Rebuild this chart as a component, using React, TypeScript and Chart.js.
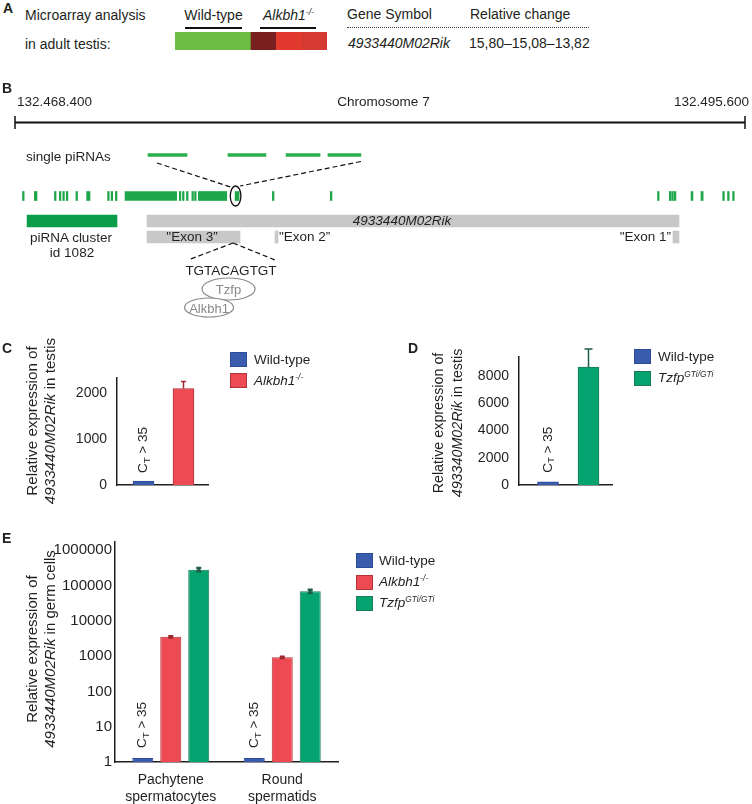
import React, { useEffect, useRef } from 'react';
import { Chart, registerables } from 'chart.js';

Chart.register(...registerables);

const FONT = '"Liberation Sans", Arial, Helvetica, sans-serif';
const INK = '#231f20';
Chart.defaults.font.family = FONT;
Chart.defaults.color = INK;

// ---------- Panel A : microarray ----------
const MICROARRAY_SAMPLES = ['WT 1', 'WT 2', 'WT 3', 'KO 1', 'KO 2', 'KO 3'];
const MICROARRAY_CELL = [1, 1, 1, 1, 1, 1];
const MICROARRAY_COLORS = ['#6dbd45', '#6dbd45', '#6dbd45', '#7a1f20', '#e2392e', '#d43a32'];
const GENE_SYMBOL = '4933440M02Rik';
const RELATIVE_CHANGE = '15,80–15,08–13,82';

// ---------- Panel B : chromosome 7 locus ----------
const CHROM_START = 132468400;
const CHROM_END = 132495600;
const CHROM_TICK_LABELS = ['132.468.400', '132.495.600'];
const PIRNA_TICKS: [number, number][] = [
  [132468680, 132468740], [132469120, 132469220], [132469870, 132469930],
  [132470050, 132470110], [132470180, 132470240], [132470310, 132470370],
  [132470670, 132470730], [132471070, 132471195], [132471850, 132471910],
  [132471980, 132472040], [132472140, 132472200], [132472500, 132474425],
  [132474520, 132474580], [132474640, 132474700], [132474790, 132474850],
  [132474990, 132475050], [132475090, 132475150], [132475230, 132476290],
  [132476600, 132476750], [132477990, 132478050], [132480150, 132480210],
  [132492340, 132492400], [132492780, 132492840], [132492870, 132492930],
  [132492965, 132493025], [132493590, 132493660], [132493960, 132494040],
  [132494770, 132494830], [132494950, 132495010], [132495140, 132495200],
];
const HIGHLIGHTED_PIRNA: [number, number] = [132476600, 132476750];
const SINGLE_PIRNAS: [number, number][] = [
  [132473355, 132474810], [132476335, 132477750], [132478500, 132479765], [132480060, 132481290],
];
const PIRNA_CLUSTER: [number, number] = [132468850, 132472200];
const GENE: [number, number] = [132473320, 132493140];
const EXONS: [number, number][] = [[132473320, 132476785], [132478090, 132478200], [132492915, 132493140]];
const SEQUENCE = 'TGTACAGTGT';

// ---------- Panel C ----------
const C_GROUPS = ['Wild-type', 'Alkbh1-/-'];
const C_VALUES = [85, 2110];
const C_ERRORS = [0, 155];
const C_TICKS = [0, 1000, 2000];
const C_MAX = 2340;

// ---------- Panel D ----------
const D_GROUPS = ['Wild-type', 'TzfpGTi/GTi'];
const D_VALUES = [230, 8640];
const D_ERRORS = [0, 1310];
const D_TICKS = [0, 2000, 4000, 6000, 8000];
const D_MAX = 9370;

// ---------- Panel E ----------
const E_CATEGORIES = [['Pachytene', 'spermatocytes'], ['Round', 'spermatids']];
const E_WT = [1.3, 1.3];
const E_ALKBH1 = [3530, 925];
const E_TZFP = [283000, 69000];
const E_ALKBH1_ERR = [200, 50];
const E_TZFP_ERR = [30000, 7000];
const E_TICKS = [1, 10, 100, 1000, 10000, 100000, 1000000];
const E_MAX = 1720000;

// ---------- styles ----------
const BLUE = '#3a5cad', BLUE_B = '#2c4c98';
const RED = '#ee4a53', RED_B = '#b3333b', RED_ERR = '#9a2a30';
const GREEN = '#04a36f', GREEN_B = '#1d7a53', GREEN_ERR = '#1b5e43';
const AXIS = '#231f20';

// rows of the locus diagram (vertical layout, px from top of panel B canvas)
const ROW = { chrom: 42.5, single: 75, track: 116, gene: 141, exon: 157 };

function errorBars(specs: any[]) {
  return {
    id: 'errorBars',
    afterDatasetsDraw(chart: any) {
      const ctx = chart.ctx;
      const ys = chart.scales.y;
      specs.forEach((s) => {
        const meta = chart.getDatasetMeta(s.dataset);
        const ds = chart.data.datasets[s.dataset].data;
        meta.data.forEach((bar: any, i: number) => {
          const err = s.errors[i];
          if (!err) return;
          const raw = ds[i];
          const v = typeof raw === 'number' ? raw : raw.y;
          const top = ys.getPixelForValue(v + err);
          const bot = s.both ? ys.getPixelForValue(v - err) : ys.getPixelForValue(v);
          ctx.save();
          ctx.strokeStyle = s.color;
          ctx.lineWidth = s.width;
          ctx.beginPath();
          ctx.moveTo(bar.x, bot);
          ctx.lineTo(bar.x, top);
          ctx.moveTo(bar.x - s.cap / 2, top);
          ctx.lineTo(bar.x + s.cap / 2, top);
          if (s.both) {
            ctx.moveTo(bar.x - s.cap / 2, bot);
            ctx.lineTo(bar.x + s.cap / 2, bot);
          }
          ctx.stroke();
          ctx.restore();
        });
      });
    },
  };
}

function ctLabels(items: [number, number][], gap: number) {
  return {
    id: 'ctLabels',
    afterDatasetsDraw(chart: any) {
      const ctx = chart.ctx;
      items.forEach(([d, i]) => {
        const bar: any = chart.getDatasetMeta(d).data[i];
        const size = 13.5;
        ctx.save();
        ctx.translate(bar.x, bar.y - gap);
        ctx.rotate(-Math.PI / 2);
        ctx.fillStyle = INK;
        ctx.textBaseline = 'middle';
        ctx.textAlign = 'left';
        let x = 0;
        ctx.font = `${size}px ${FONT}`;
        ctx.fillText('C', x, 0);
        x += ctx.measureText('C').width;
        ctx.font = `${size * 0.72}px ${FONT}`;
        ctx.fillText('T', x, size * 0.28);
        x += ctx.measureText('T').width;
        ctx.font = `${size}px ${FONT}`;
        ctx.fillText(' > 35', x, 0);
        ctx.restore();
      });
    },
  };
}

const BASE_OPTS = {
  responsive: false,
  animation: false,
  events: [],
  plugins: { legend: { display: false }, tooltip: { enabled: false } },
};

function makeA() {
  return {
    type: 'bar',
    data: {
      labels: MICROARRAY_SAMPLES,
      datasets: [{ data: MICROARRAY_CELL, backgroundColor: MICROARRAY_COLORS, borderWidth: 0, barPercentage: 1, categoryPercentage: 1 }],
    },
    options: {
      ...BASE_OPTS,
      layout: { padding: 0 },
      scales: { x: { display: false }, y: { display: false, min: 0, max: 1 } },
    },
  };
}

const locusPlugin = {
  id: 'locus',
  afterDatasetsDraw(chart: any) {
    const { ctx } = chart;
    const xs = chart.scales.x, ys = chart.scales.y;
    const px = (v: number) => xs.getPixelForValue(v);
    const py = (v: number) => ys.getPixelForValue(v);
    ctx.save();
    ctx.strokeStyle = '#111';
    ctx.lineWidth = 1.5;
    [CHROM_START, CHROM_END].forEach((v) => {
      ctx.beginPath();
      ctx.moveTo(px(v), py(ROW.chrom) - 6.5);
      ctx.lineTo(px(v), py(ROW.chrom) + 6.5);
      ctx.stroke();
    });
    // ellipse around highlighted piRNA
    const ecx = (px(HIGHLIGHTED_PIRNA[0]) + px(HIGHLIGHTED_PIRNA[1])) / 2 - 1.5;
    const ecy = py(ROW.track);
    ctx.lineWidth = 1.3;
    ctx.beginPath();
    ctx.ellipse(ecx, ecy, 5.3, 10, 0, 0, Math.PI * 2);
    ctx.stroke();
    // dashed zoom lines
    ctx.setLineDash([5, 3]);
    ctx.lineWidth = 1.2;
    ctx.beginPath();
    ctx.moveTo(px(SINGLE_PIRNAS[0][0]) + 9, py(ROW.single) + 8);
    ctx.lineTo(ecx - 5, ecy - 9);
    ctx.moveTo(px(SINGLE_PIRNAS[3][1]), py(ROW.single) + 6.5);
    ctx.lineTo(ecx + 4.5, ecy - 10);
    const ax = px(EXONS[0][1]) - 7;
    const ay = py(ROW.exon) + 6;
    ctx.moveTo(ax, ay);
    ctx.lineTo(ax - 45, ay + 17);
    ctx.moveTo(ax, ay);
    ctx.lineTo(ax + 42, ay + 17);
    ctx.stroke();
    ctx.setLineDash([]);
    // protein binding ellipses
    ctx.strokeStyle = '#8a8a8a';
    ctx.fillStyle = '#ffffff';
    ctx.lineWidth = 1.2;
    ctx.beginPath();
    ctx.ellipse(ax - 4.5, ay + 46, 26.5, 11, 0, 0, Math.PI * 2);
    ctx.fill();
    ctx.stroke();
    ctx.beginPath();
    ctx.ellipse(ax - 24, ay + 64.5, 24.5, 9.5, 0, 0, Math.PI * 2);
    ctx.fill();
    ctx.stroke();
    ctx.restore();
  },
};

function makeB() {
  const common = { stack: 'locus', borderWidth: 0 };
  return {
    type: 'bar',
    data: {
      datasets: [
        { ...common, label: 'Chromosome 7', data: [{ x: [CHROM_START, CHROM_END], y: ROW.chrom }], backgroundColor: '#111', barThickness: 1.5 },
        { ...common, label: 'single piRNAs', data: SINGLE_PIRNAS.map((r) => ({ x: r, y: ROW.single })), backgroundColor: '#2bae4b', barThickness: 3 },
        { ...common, label: 'piRNAs', data: PIRNA_TICKS.map((r) => ({ x: r, y: ROW.track })), backgroundColor: '#1ea64a', barThickness: 9 },
        { ...common, label: 'piRNA cluster id 1082', data: [{ x: PIRNA_CLUSTER, y: ROW.gene }], backgroundColor: '#0a9e4b', barThickness: 12 },
        { ...common, label: GENE_SYMBOL, data: [{ x: GENE, y: ROW.gene }], backgroundColor: '#c8c8c8', barThickness: 12 },
        { ...common, label: 'Exons', data: EXONS.map((r) => ({ x: r, y: ROW.exon })), backgroundColor: '#c8c8c8', barThickness: 12 },
      ],
    },
    options: {
      ...BASE_OPTS,
      indexAxis: 'y',
      layout: { padding: { left: 15, right: 7, top: 0, bottom: 0 } },
      scales: {
        x: { type: 'linear', display: false, min: CHROM_START, max: CHROM_END, stacked: false, offset: false },
        y: { type: 'linear', display: false, min: 0, max: 250, reverse: true, offset: false },
      },
    },
    plugins: [locusPlugin],
  };
}

function pairConfig(o: any) {
  return {
    type: 'bar',
    data: {
      datasets: [{
        label: 'Relative expression',
        data: o.values.map((v: number, i: number) => ({ x: i, y: v })),
        backgroundColor: o.fill, borderColor: o.border, borderWidth: 1, barThickness: 21,
      }],
    },
    options: {
      ...BASE_OPTS,
      layout: { padding: o.padding },
      scales: {
        x: {
          type: 'linear', min: o.xMin, max: o.xMax, offset: false,
          ticks: { display: false }, grid: { display: false, drawTicks: false },
          border: { display: true, color: AXIS, width: 1.5 },
          afterFit: (s: any) => { s.height = 10; },
        },
        y: {
          type: 'linear', min: 0, max: o.yMax,
          ticks: { font: { size: 14 }, color: INK, padding: 10, callback: (v: any) => String(v) },
          afterBuildTicks: (s: any) => { s.ticks = o.ticks.map((v: number) => ({ value: v })); },
          grid: { display: false, drawTicks: false },
          border: { display: true, color: AXIS, width: 1.5 },
          afterFit: (s: any) => { s.width = o.yWidth; },
        },
      },
    },
    plugins: [errorBars([{ dataset: 0, errors: o.errors, color: o.errColor, cap: o.cap, width: 1.5 }]), ctLabels([[0, 0]], o.gap)],
  };
}

function makeC() {
  return pairConfig({
    values: C_VALUES, errors: C_ERRORS, ticks: C_TICKS, yMax: C_MAX,
    xMin: -0.6625, xMax: 1.6125, fill: [BLUE, RED], border: [BLUE_B, RED_B], errColor: RED_ERR,
    yWidth: 117, padding: { left: 0, right: 168, top: 48, bottom: 35 }, cap: 5, gap: 8,
  });
}

function makeD() {
  return pairConfig({
    values: D_VALUES, errors: D_ERRORS, ticks: D_TICKS, yMax: D_MAX,
    xMin: -0.716, xMax: 1.58, fill: [BLUE, GREEN], border: [BLUE_B, GREEN_B], errColor: GREEN_ERR,
    yWidth: 143, padding: { left: 0, right: 140, top: 27, bottom: 35 }, cap: 8, gap: 9,
  });
}

function makeE() {
  return {
    type: 'bar',
    data: {
      labels: E_CATEGORIES,
      datasets: [
        { label: 'Wild-type', data: E_WT, backgroundColor: BLUE, borderColor: BLUE_B, borderWidth: 1 },
        { label: 'Alkbh1-/-', data: E_ALKBH1, backgroundColor: RED, borderColor: RED_B, borderWidth: 1 },
        { label: 'TzfpGTi/GTi', data: E_TZFP, backgroundColor: GREEN, borderColor: GREEN_B, borderWidth: 1 },
      ],
    },
    options: {
      ...BASE_OPTS,
      datasets: { bar: { barPercentage: 0.75, categoryPercentage: 0.753 } },
      layout: { padding: { left: 0, right: 38, top: 12, bottom: 0 } },
      scales: {
        x: {
          ticks: { font: { size: 14 }, color: INK, padding: 10, maxRotation: 0, autoSkip: false },
          grid: { display: false, drawTicks: false },
          border: { display: true, color: AXIS, width: 1.5 },
          afterFit: (s: any) => { s.height = 42; },
        },
        y: {
          type: 'logarithmic', min: 1, max: E_MAX,
          ticks: { font: { size: 15 }, color: INK, padding: 3, callback: (v: any) => String(v) },
          afterBuildTicks: (s: any) => { s.ticks = E_TICKS.map((v) => ({ value: v })); },
          grid: { display: false, drawTicks: false },
          border: { display: true, color: AXIS, width: 1.5 },
          afterFit: (s: any) => { s.width = 115; },
        },
      },
    },
    plugins: [
      errorBars([
        { dataset: 1, errors: E_ALKBH1_ERR, color: RED_ERR, cap: 5, width: 2, both: true },
        { dataset: 2, errors: E_TZFP_ERR, color: GREEN_ERR, cap: 5, width: 2.5, both: true },
      ]),
      ctLabels([[0, 0], [0, 1]], 10),
    ],
  };
}

function ChartCanvas({ left, top, width, height, make }: any) {
  const ref = useRef<HTMLCanvasElement>(null);
  useEffect(() => {
    const chart = new Chart(ref.current as HTMLCanvasElement, make());
    return () => chart.destroy();
  }, []);
  return <canvas ref={ref} width={width} height={height} style={{ position: 'absolute', left, top, width, height }} />;
}

function T({ x, y, a = 'left', s = 14, i = false, b = false, c = INK, children }: any) {
  const tx = a === 'left' ? '0' : a === 'center' ? '-50%' : '-100%';
  return (
    <div style={{
      position: 'absolute', left: x, top: y, transform: `translate(${tx},-50%)`,
      fontSize: s, fontStyle: i ? 'italic' : 'normal', fontWeight: b ? 'bold' : 'normal',
      color: c, lineHeight: 1, whiteSpace: 'nowrap', fontFamily: FONT,
    }}>{children}</div>
  );
}

const Sup = ({ children }: any) => (
  <span style={{ fontSize: '0.62em', position: 'relative', top: '-0.55em' }}>{children}</span>
);

function YTitle({ cx, cy, size, lh, line1, line2 }: any) {
  return (
    <div style={{
      position: 'absolute', left: cx, top: cy, transform: 'translate(-50%,-50%) rotate(-90deg)',
      fontSize: size, lineHeight: `${lh}px`, textAlign: 'center', whiteSpace: 'nowrap', fontFamily: FONT, color: INK,
    }}>
      <div>{line1}</div>
      <div>{line2}</div>
    </div>
  );
}

function Box({ x, y, fill, border }: any) {
  return <div style={{ position: 'absolute', left: x, top: y, width: 17, height: 15, background: fill, border: `1px solid ${border}`, boxSizing: 'border-box' }} />;
}

const Alk = () => (<span style={{ fontStyle: 'italic' }}>Alkbh1<Sup>-/-</Sup></span>);
const Tz = () => (<span style={{ fontStyle: 'italic' }}>Tzfp<Sup>GTi/GTi</Sup></span>);

export default function App() {
  return (
    <div style={{ position: 'relative', width: 752, height: 804, overflow: 'hidden', background: '#fff', fontFamily: FONT }}>
      <style>{'body{margin:0;background:#fff}'}</style>

      <ChartCanvas left={175} top={32} width={152} height={18} make={makeA} />
      <ChartCanvas left={0} top={80} width={752} height={250} make={makeB} />
      <ChartCanvas left={0} top={330} width={376} height={200} make={makeC} />
      <ChartCanvas left={376} top={330} width={376} height={200} make={makeD} />
      <ChartCanvas left={0} top={530} width={376} height={274} make={makeE} />

      {/* Panel A */}
      <T x={3} y={8} b s={14}>A</T>
      <T x={25} y={15}>Microarray analysis</T>
      <T x={25} y={44}>in adult testis:</T>
      <T x={213.5} y={15} a="center">Wild-type</T>
      <T x={288.5} y={15} a="center"><Alk /></T>
      <div style={{ position: 'absolute', left: 185, top: 26.5, width: 57, height: 2, background: '#111' }} />
      <div style={{ position: 'absolute', left: 260, top: 26.5, width: 56, height: 2, background: '#111' }} />
      <T x={347} y={14}>Gene Symbol</T>
      <T x={470} y={14}>Relative change</T>
      <div style={{ position: 'absolute', left: 347, top: 27, width: 242, height: 0, borderTop: '1.5px dotted #333' }} />
      <T x={348} y={43} i>{GENE_SYMBOL}</T>
      <T x={469} y={43}>{RELATIVE_CHANGE}</T>

      {/* Panel B */}
      <T x={2} y={87.5} b s={14}>B</T>
      <T x={17} y={102} s={13.5}>{CHROM_TICK_LABELS[0]}</T>
      <T x={383.5} y={102} a="center" s={13.5}>Chromosome 7</T>
      <T x={749} y={102} a="right" s={13.5}>{CHROM_TICK_LABELS[1]}</T>
      <T x={26} y={157} s={13.5}>single piRNAs</T>
      <T x={71} y={238} a="center" s={13.5}>piRNA cluster</T>
      <T x={72} y={252.5} a="center" s={13.5}>id 1082</T>
      <T x={402} y={221} a="center" s={13.5} i>{GENE_SYMBOL}</T>
      <T x={192} y={237} a="center" s={13.5}>"Exon 3”</T>
      <T x={279} y={237} s={13.5}>"Exon 2”</T>
      <T x={671} y={237} a="right" s={13.5}>"Exon 1”</T>
      <T x={231} y={271} a="center" s={13.5}>{SEQUENCE}</T>
      <T x={228.5} y={289} a="center" s={13} c="#888">Tzfp</T>
      <T x={209} y={308} a="center" s={13} c="#888">Alkbh1</T>

      {/* Panel C */}
      <T x={2} y={348} b s={14}>C</T>
      <YTitle cx={41} cy={421} size={15.2} lh={18} line1="Relative expression of" line2={<><i>4933440M02Rik</i> in testis</>} />
      <Box x={230} y={352} fill={BLUE} border={BLUE_B} />
      <Box x={230} y={373} fill={RED} border={RED_B} />
      <T x={254} y={360} s={13.5}>{C_GROUPS[0]}</T>
      <T x={254} y={381} s={13.5}><Alk /></T>

      {/* Panel D */}
      <T x={408} y={348} b s={14}>D</T>
      <YTitle cx={447.5} cy={423} size={14.3} lh={19} line1="Relative expression of" line2={<><i>493340M02Rik</i> in testis</>} />
      <Box x={634} y={349} fill={BLUE} border={BLUE_B} />
      <Box x={634} y={371} fill={GREEN} border={GREEN_B} />
      <T x={658} y={357} s={13.5}>{D_GROUPS[0]}</T>
      <T x={658} y={378} s={13.5}><Tz /></T>

      {/* Panel E */}
      <T x={2} y={537.5} b s={14}>E</T>
      <YTitle cx={41} cy={649} size={15} lh={18} line1="Relative expression of" line2={<><i>4933440M02Rik</i> in germ cells</>} />
      <Box x={356} y={553} fill={BLUE} border={BLUE_B} />
      <Box x={356} y={575} fill={RED} border={RED_B} />
      <Box x={356} y={596} fill={GREEN} border={GREEN_B} />
      <T x={379} y={561} s={13.5}>Wild-type</T>
      <T x={379} y={582} s={13.5}><Alk /></T>
      <T x={379} y={603} s={13.5}><Tz /></T>
    </div>
  );
}
